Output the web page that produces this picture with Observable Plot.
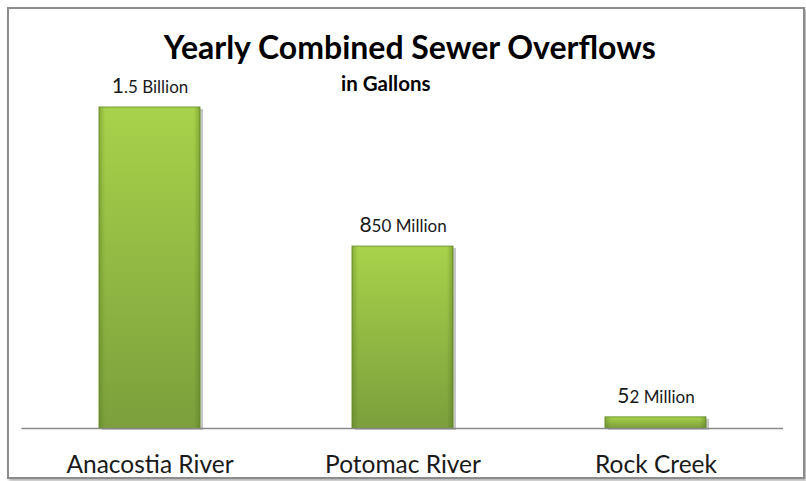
<!DOCTYPE html>
<html>
<head>
<meta charset="utf-8">
<script src="https://cdn.jsdelivr.net/npm/d3@7"></script>
<script src="https://cdn.jsdelivr.net/npm/@observablehq/plot@0.6"></script>
<style>
  html, body { margin: 0; padding: 0; background: #fff; }
  #wrap { position: relative; width: 806px; height: 481px; overflow: hidden; }
  #border { position: absolute; left: 7px; top: 7px; width: 794px; height: 468px;
            border: 2px solid #8c8c8c; box-shadow: 2px 2px 3px #b0b0b0; background: #fff; }
  #chart { position: absolute; left: 0; top: 0; }
  #chart svg { background: transparent; }
</style>
</head>
<body>
<div id="wrap"><div id="border"></div><div id="chart"></div></div>
<script>
const rivers = ["Anacostia River", "Potomac River", "Rock Creek"];
const gallonsMillions = [1500, 850, 52];
const valueLabels = ["1.5 Billion", "850 Million", "52 Million"];
const titleText = "Yearly Combined Sewer Overflows";
const subtitleText = "in Gallons";

const data = rivers.map((r, i) => ({river: r, value: gallonsMillions[i], label: valueLabels[i]}));
const font = "Lato, 'Open Sans', sans-serif";

const plot = Plot.plot({
  width: 806,
  height: 481,
  marginLeft: 21.5,
  marginRight: 23,
  marginTop: 107,
  marginBottom: 53,
  style: {fontFamily: font, background: "transparent", color: "#1a1a1a"},
  x: {domain: rivers, paddingInner: 0.6, paddingOuter: 0.3, label: null},
  y: {domain: [0, 1500], axis: null},
  marks: [
    Plot.barY(data, {x: "river", y: "value", fill: "#333", fillOpacity: 0.28, dx: 3, dy: 2}),
    Plot.barY(data, {x: "river", y: "value", fill: "url(#barGrad)", stroke: "#729a32", strokeWidth: 1}),
    Plot.barY(data, {x: "river", y: "value", fill: "url(#bevelGrad)"}),
    Plot.ruleY([0], {stroke: "#8a8a8a", strokeWidth: 1.5}),
    Plot.text(data, {x: "river", y: "value", text: "label", dy: -20, fontSize: 17, fill: "#1a1a1a"}),
    Plot.text([titleText], {frameAnchor: "top", text: d => d, dx: 7, dy: -71, fontSize: 32, fontWeight: "bold", fill: "#000"}),
    Plot.text([subtitleText], {frameAnchor: "top", text: d => d, dx: -17, dy: -31, fontSize: 20.5, fontWeight: "bold", fill: "#000"}),
    Plot.axisX({tickSize: 0, tickPadding: 27, fontSize: 24.5, label: null, fill: "#1a1a1a"})
  ]
});

const svg = d3.select(plot);
const defs = svg.insert("defs", ":first-child");
const g1 = defs.append("linearGradient").attr("id", "barGrad").attr("x1", 0).attr("y1", 0).attr("x2", 0).attr("y2", 1);
g1.append("stop").attr("offset", "0%").attr("stop-color", "#a8d24a");
g1.append("stop").attr("offset", "100%").attr("stop-color", "#7b9f3c");
const g2 = defs.append("linearGradient").attr("id", "bevelGrad").attr("x1", 0).attr("y1", 0).attr("x2", 1).attr("y2", 0);
g2.append("stop").attr("offset", "0%").attr("stop-color", "#4d6b1c").attr("stop-opacity", 0.35);
g2.append("stop").attr("offset", "6%").attr("stop-color", "#4d6b1c").attr("stop-opacity", 0);
g2.append("stop").attr("offset", "94%").attr("stop-color", "#4d6b1c").attr("stop-opacity", 0);
g2.append("stop").attr("offset", "100%").attr("stop-color", "#4d6b1c").attr("stop-opacity", 0.4);

// bigger first digit in value labels
svg.selectAll("text").filter(function() { return valueLabels.includes(this.textContent); }).each(function() {
  const t = d3.select(this);
  const s = t.text();
  t.text(null);
  t.append("tspan").style("font-size", "21px").text(s[0]);
  t.append("tspan").text(s.slice(1));
});

document.getElementById("chart").append(plot);
</script>
</body>
</html>
